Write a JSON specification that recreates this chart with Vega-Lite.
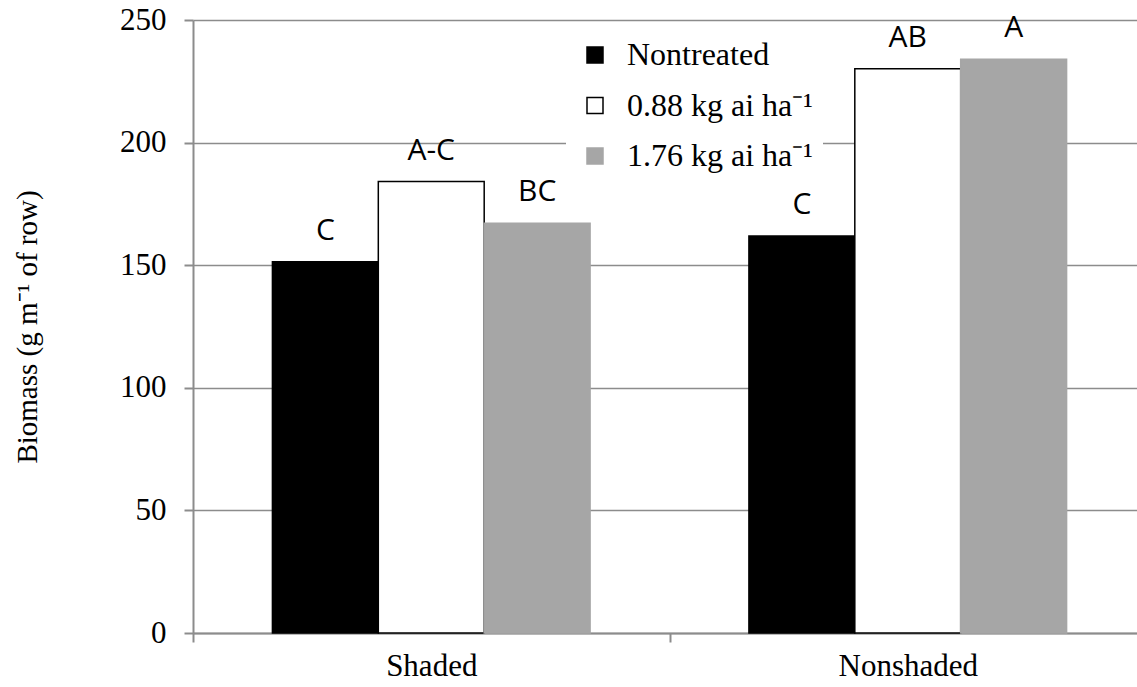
{
  "$schema": "https://vega.github.io/schema/vega-lite/v6.json",
  "autosize": {"type": "none"},
  "width": 944,
  "height": 613,
  "padding": {"left": 193, "top": 20, "right": 0, "bottom": 54},
  "background": "white",
  "config": {"view": {"stroke": null}},
  "data": {
    "values": [
      {"condition": "Shaded", "treatment": "Nontreated", "biomass": 151.4, "letter": "C"},
      {"condition": "Shaded", "treatment": "0.88 kg ai ha⁻¹", "biomass": 184.1, "letter": "A-C"},
      {"condition": "Shaded", "treatment": "1.76 kg ai ha⁻¹", "biomass": 167.1, "letter": "BC"},
      {"condition": "Nonshaded", "treatment": "Nontreated", "biomass": 161.9, "letter": "C"},
      {"condition": "Nonshaded", "treatment": "0.88 kg ai ha⁻¹", "biomass": 230.1, "letter": "AB"},
      {"condition": "Nonshaded", "treatment": "1.76 kg ai ha⁻¹", "biomass": 234.0, "letter": "A"}
    ]
  },
  "encoding": {
    "x": {
      "field": "condition",
      "type": "nominal",
      "sort": ["Shaded", "Nonshaded"],
      "scale": {"range": [0, 953], "paddingInner": 0, "paddingOuter": 0},
      "axis": {
        "title": null,
        "labelAngle": 0,
        "labelFont": "Liberation Serif",
        "labelFontSize": 31,
        "labelColor": "black",
        "labelPadding": 9,
        "tickSize": 9,
        "tickColor": "#8c8c8c",
        "tickWidth": 2,
        "tickOffset": -238.25,
        "labelOffset": 238.25,
        "domainColor": "#8c8c8c",
        "domainWidth": 2,
        "grid": false
      }
    },
    "xOffset": {
      "field": "treatment",
      "type": "nominal",
      "sort": ["Nontreated", "0.88 kg ai ha⁻¹", "1.76 kg ai ha⁻¹"],
      "scale": {"paddingInner": 0, "paddingOuter": 0.75}
    },
    "y": {
      "field": "biomass",
      "type": "quantitative",
      "scale": {"domain": [0, 250], "nice": false},
      "axis": {
        "title": "Biomass (g m⁻¹ of row)",
        "titleFont": "Liberation Serif",
        "titleFontSize": 29,
        "titleFontWeight": "normal",
        "titleColor": "black",
        "titlePadding": 77,
        "values": [0, 50, 100, 150, 200, 250],
        "labelFont": "Liberation Serif",
        "labelFontSize": 31,
        "labelColor": "black",
        "labelPadding": 18,
        "tickSize": 9,
        "tickColor": "#8c8c8c",
        "tickWidth": 2,
        "domainColor": "#8c8c8c",
        "domainWidth": 2,
        "grid": true,
        "gridColor": "#8c8c8c",
        "gridWidth": 1.5
      }
    }
  },
  "layer": [
    {
      "mark": {"type": "bar", "strokeWidth": 1.5},
      "encoding": {
        "fill": {
          "field": "treatment",
          "type": "nominal",
          "sort": ["Nontreated", "0.88 kg ai ha⁻¹", "1.76 kg ai ha⁻¹"],
          "scale": {"domain": ["Nontreated", "0.88 kg ai ha⁻¹", "1.76 kg ai ha⁻¹"], "range": ["#000000", "#ffffff", "#a6a6a6"]},
          "legend": {
            "orient": "none",
            "legendX": 373,
            "legendY": 9,
            "title": null,
            "symbolType": "square",
            "symbolSize": 256,
            "symbolStrokeWidth": 1.5,
            "labelFont": "Liberation Serif",
            "labelFontSize": 32,
            "labelColor": "black",
            "labelOffset": 16,
            "labelLimit": 400,
            "rowPadding": 18.5,
            "padding": 10,
            "fillColor": "white",
            "symbolOffset": 3
          }
        },
        "stroke": {
          "field": "treatment",
          "type": "nominal",
          "sort": ["Nontreated", "0.88 kg ai ha⁻¹", "1.76 kg ai ha⁻¹"],
          "scale": {"domain": ["Nontreated", "0.88 kg ai ha⁻¹", "1.76 kg ai ha⁻¹"], "range": ["#000000", "#000000", "#a6a6a6"]},
          "legend": {
            "orient": "none",
            "legendX": 373,
            "legendY": 9,
            "title": null,
            "symbolType": "square",
            "symbolSize": 256,
            "symbolStrokeWidth": 1.5,
            "labelFont": "Liberation Serif",
            "labelFontSize": 32,
            "labelColor": "black",
            "labelOffset": 16,
            "labelLimit": 400,
            "rowPadding": 18.5,
            "padding": 10,
            "fillColor": "white",
            "symbolOffset": 3
          }
        }
      }
    },
    {
      "mark": {"type": "text", "font": "Open Sans", "fontSize": 30, "baseline": "alphabetic", "align": "center", "dy": -22, "color": "black"},
      "encoding": {"text": {"field": "letter"}}
    }
  ]
}
